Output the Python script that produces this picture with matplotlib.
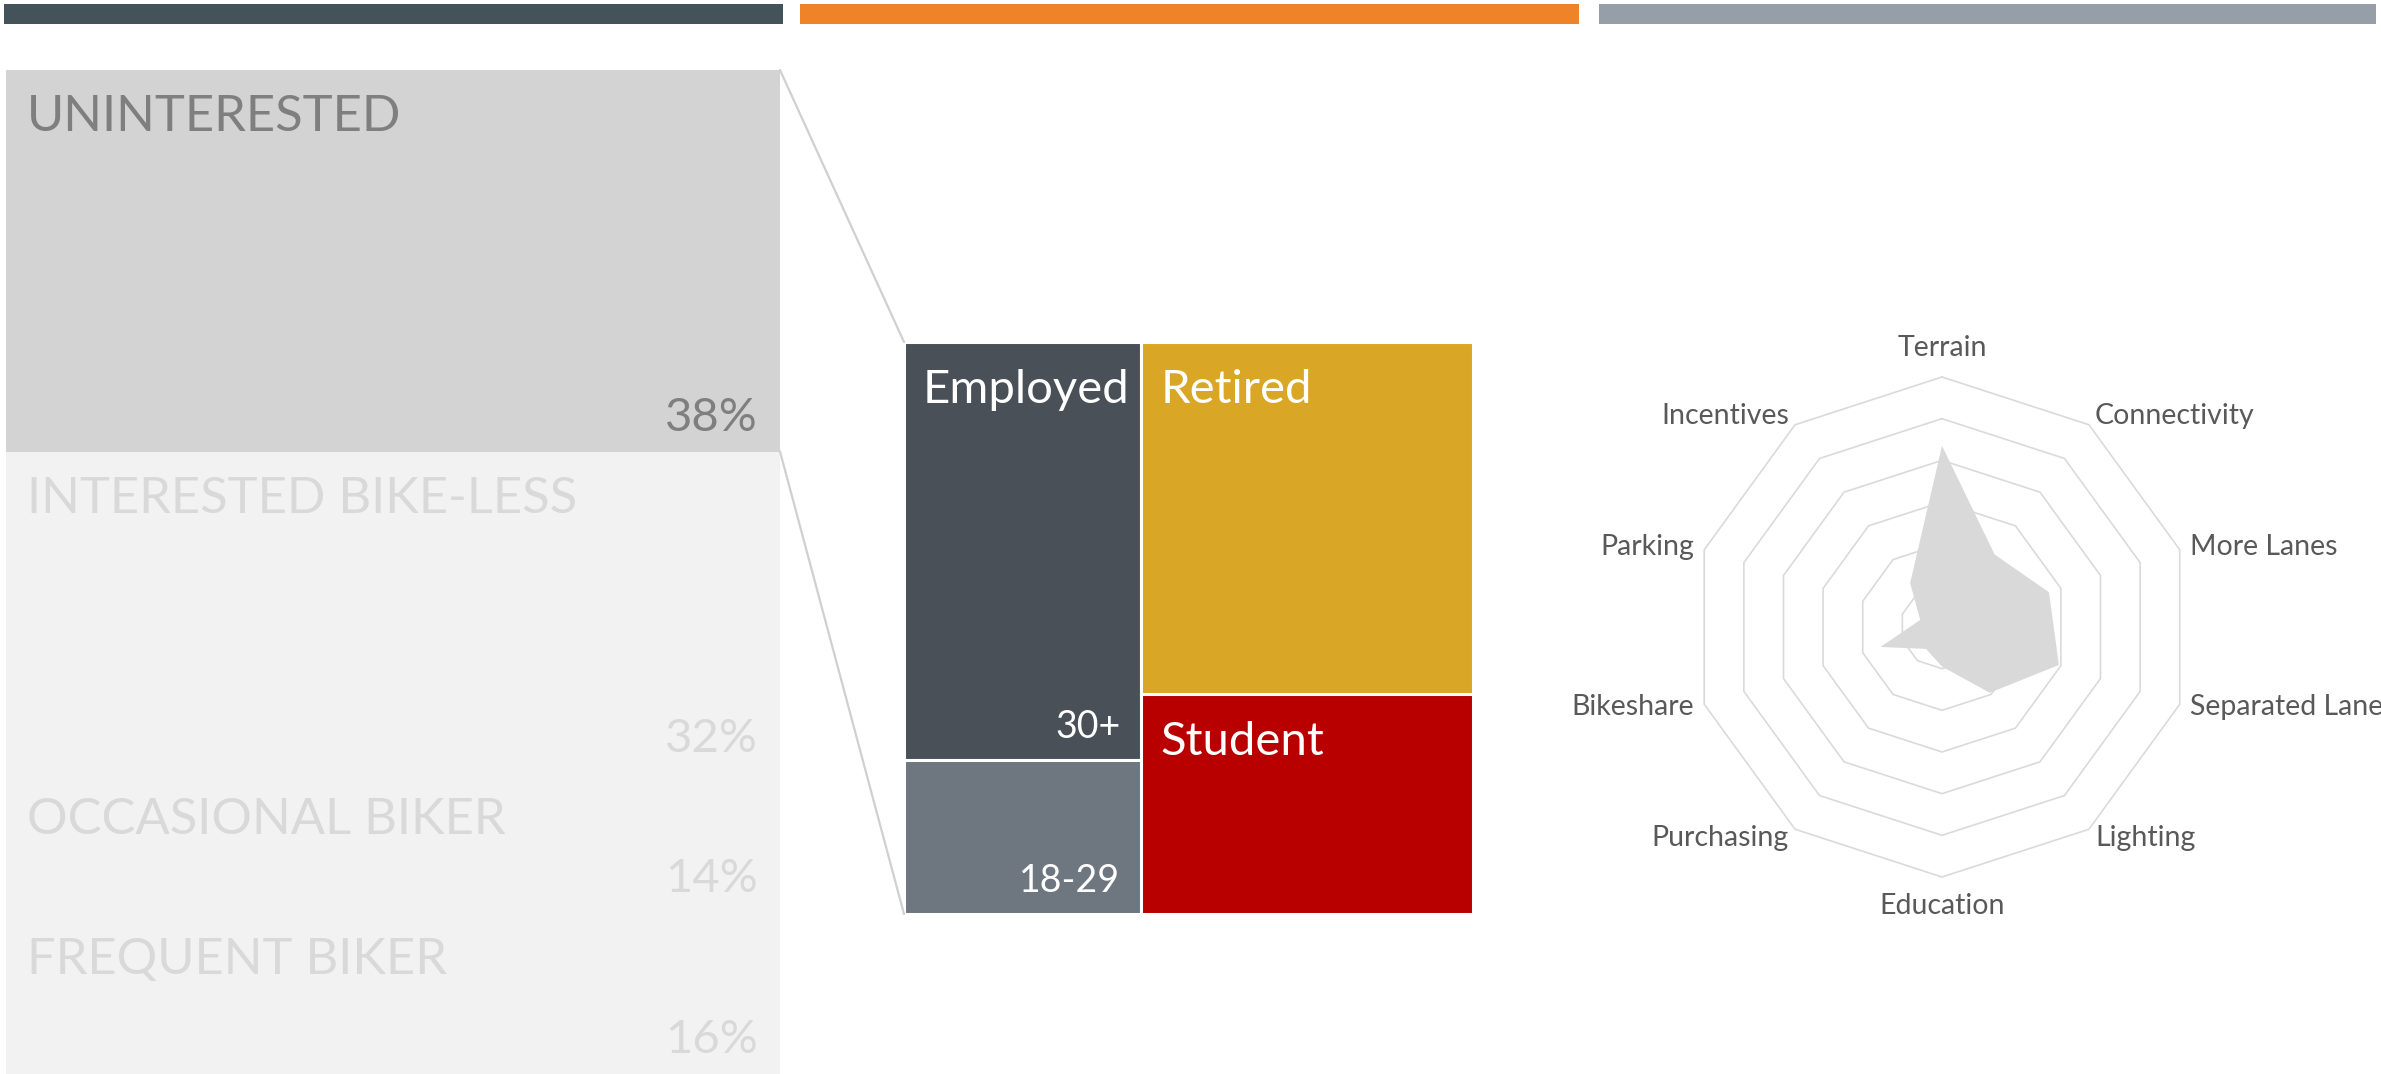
import numpy as np
import matplotlib.pyplot as plt
from matplotlib.patches import Rectangle, ConnectionPatch

plt.rcParams['font.family'] = ['Lato', 'DejaVu Sans']

# rider types, share of respondents (%)
segments = ["UNINTERESTED", "INTERESTED BIKE-LESS", "OCCASIONAL BIKER", "FREQUENT BIKER"]
segment_share = [38, 32, 14, 16]

# breakdown of the uninterested group
tree_names = ["Employed", "", "Retired", "Student"]
tree_ages = ["30+", "18-29", "", ""]
tree_column = [0, 0, 1, 1]
tree_values = [30.5, 11.2, 35.9, 22.4]

# barriers to riding, scored 0-6
barriers = ["Terrain", "Connectivity", "More Lanes", "Separated Lanes", "Lighting",
            "Education", "Purchasing", "Bikeshare", "Parking", "Incentives"]
barrier_scores = [4.35, 2.15, 2.7, 2.95, 1.95, 0.95, 0.65, 1.55, 0.55, 1.3]
score_max = 6

W, H = 2381, 1074
fig = plt.figure(figsize=(W / 100, H / 100), dpi=100)


def box(x0, y0, x1, y1):
    # pixel box (top-left origin) -> figure fraction rect
    return [x0 / W, 1 - y1 / H, (x1 - x0) / W, (y1 - y0) / H]


# header strips
for (x0, x1), c in zip([(4, 783), (800, 1579), (1599, 2376)],
                       ['#44535a', '#ee8427', '#969ea8']):
    fig.add_artist(Rectangle((x0 / W, 1 - 24 / H), (x1 - x0) / W, 20 / H,
                             transform=fig.transFigure, color=c, lw=0))

# --- stacked share column ---
ax_seg = fig.add_axes(box(6, 70, 780, 1074))
bottoms = np.cumsum([0] + segment_share[:-1])
seg_colors = ['#d3d3d3'] + ['#f2f2f2'] * 3
ax_seg.bar([0] * len(segment_share), segment_share, bottom=bottoms, width=1,
           align='edge', color=seg_colors, lw=0)
ax_seg.set_xlim(0, 1)
ax_seg.set_ylim(100, 0)
ax_seg.axis('off')
for i, (name, share, b) in enumerate(zip(segments, segment_share, bottoms)):
    tc = '#7f7f7f' if i == 0 else '#d9d9d9'
    ax_seg.annotate(name, (0, b), xytext=(21, -61), textcoords='offset pixels',
                    ha='left', va='baseline', fontsize=36.5, color=tc)
    ax_seg.annotate(f'{share}%', (1, b + share), xytext=(-22, 21),
                    textcoords='offset pixels', ha='right', va='baseline',
                    fontsize=34, color=tc)

# --- treemap ---
ax_tree = fig.add_axes(box(904, 342, 1473, 914))
tree_colors = ['#4a5058', '#6e7780', '#d9a625', '#b80000']
ncol = max(tree_column) + 1
col_total = [sum(v for v, c in zip(tree_values, tree_column) if c == k) for k in range(ncol)]
col_left = np.cumsum([0] + col_total[:-1])
filled = [0.0] * ncol
for name, age, col, val, colr in zip(tree_names, tree_ages, tree_column, tree_values, tree_colors):
    h = val / col_total[col] * 100
    top = filled[col]
    ax_tree.bar(col_left[col], h, bottom=top, width=col_total[col], align='edge',
                color=colr, edgecolor='white', lw=2.2)
    if name:
        ax_tree.annotate(name, (col_left[col], top), xytext=(19, -61),
                         textcoords='offset pixels', ha='left', va='baseline',
                         fontsize=34, color='white')
    if age:
        ax_tree.annotate(age, (col_left[col] + col_total[col], top + h), xytext=(-21, 22),
                         textcoords='offset pixels', ha='right', va='baseline',
                         fontsize=27, color='white')
    filled[col] += h
ax_tree.set_xlim(0, sum(col_total))
ax_tree.set_ylim(100, 0)
ax_tree.axis('off')

# zoom lines from the uninterested block to the treemap
for xyA, xyB in [((1, 0), (0, 1)), ((1, segment_share[0]), (0, 0))]:
    fig.add_artist(ConnectionPatch(xyA=xyA, coordsA=ax_seg.transData,
                                   xyB=xyB, coordsB=ax_tree.transAxes,
                                   color='#d0d0d0', lw=1.6))

# --- radar ---
ax_r = fig.add_axes(box(1692, 377, 2192, 877), projection='polar')
ax_r.set_theta_offset(np.pi / 2)
ax_r.set_theta_direction(-1)
ax_r.set_ylim(0, score_max)
ax_r.axis('off')
angles = np.linspace(0, 2 * np.pi, len(barriers), endpoint=False)
closed = np.append(angles, angles[0])
for lvl in range(1, score_max + 1):
    ax_r.plot(closed, [lvl] * len(closed), color='#dadada', lw=1.2, clip_on=False)
ax_r.fill(closed, barrier_scores + barrier_scores[:1], color='#d9d9d9', lw=0, zorder=3)
for ang, lab in zip(angles, barriers):
    s = np.sin(ang)
    if abs(s) < 1e-6:
        ha, r = 'center', score_max * 1.115
    else:
        ha, r = ('left' if s > 0 else 'right'), score_max * 1.042
    ax_r.text(ang, r, lab, ha=ha, va='center', fontsize=20.5, color='#595959',
              clip_on=False)

fig.savefig('out.png', dpi=100)
